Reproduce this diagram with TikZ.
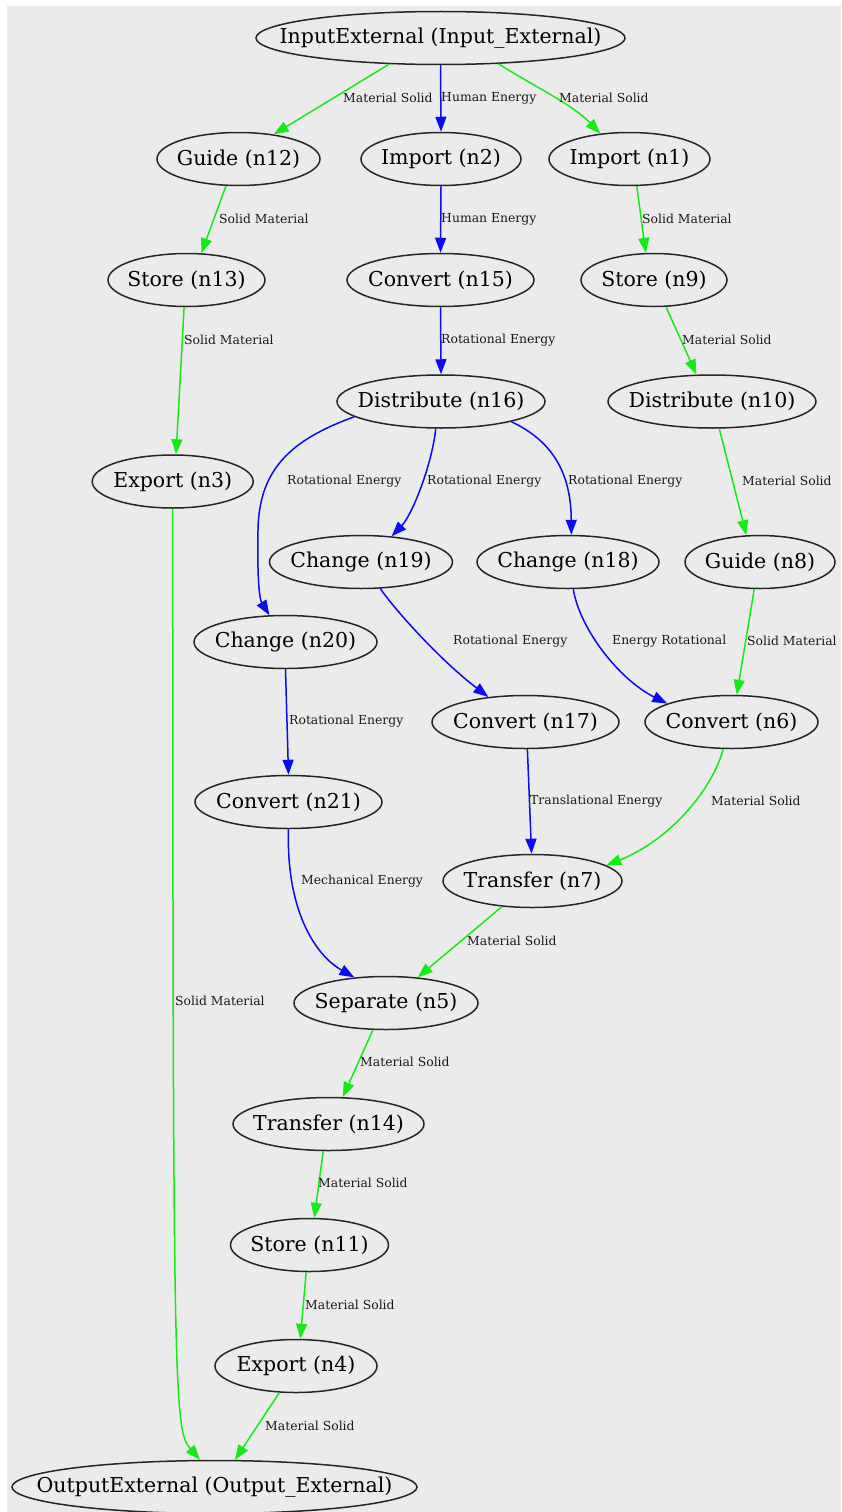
\documentclass[tikz,border=0pt]{standalone}
\usepackage{fontspec}
\setmainfont{DejaVu Serif}
\usetikzlibrary{shapes.geometric,arrows.meta}
\definecolor{canvas}{RGB}{235,235,235}
\definecolor{flowgreen}{RGB}{20,235,20}
\definecolor{flowblue}{RGB}{10,10,245}
\newcommand\fntext[1]{\makebox[0pt]{#1}}
\begin{document}
\begin{tikzpicture}[x=1pt,y=-1pt,
  fn/.style={ellipse, draw=black!85, line width=1.5pt, inner sep=0pt,
    minimum height=53pt, text=black, font=\fontsize{20.5}{24}\selectfont},
  lbl/.style={anchor=west, inner sep=0pt, text=black!90,
    font=\fontsize{12.4}{14}\selectfont},
  flow/.style={line width=1.5pt, -{Triangle[length=15pt,width=11pt]}},
  mat/.style={flow, draw=flowgreen},
  nrg/.style={flow, draw=flowblue}]

% page and canvas
\useasboundingbox (0,0) rectangle (841,1512);
\fill[white] (0,0) rectangle (841,1512);
\fill[canvas] (7,6) rectangle (841,1512);

% function blocks
\node[fn, minimum width=369pt] (in)  at (440.5,38)   {\fntext{InputExternal (Input\_External)}};
\node[fn, minimum width=163pt] (n12) at (238.5,159)  {\fntext{Guide (n12)}};
\node[fn, minimum width=160pt] (n2)  at (441,159)    {\fntext{Import (n2)}};
\node[fn, minimum width=161pt] (n1)  at (629.5,159)  {\fntext{Import (n1)}};
\node[fn, minimum width=157pt] (n13) at (186.5,280)  {\fntext{Store (n13)}};
\node[fn, minimum width=187pt] (n15) at (440.5,280)  {\fntext{Convert (n15)}};
\node[fn, minimum width=146pt] (n9)  at (654,280)    {\fntext{Store (n9)}};
\node[fn, minimum width=208pt] (n16) at (441,401.5)  {\fntext{Distribute (n16)}};
\node[fn, minimum width=208pt] (n10) at (712,401.5)  {\fntext{Distribute (n10)}};
\node[fn, minimum width=161pt] (n3)  at (172.7,481.5){\fntext{Export (n3)}};
\node[fn, minimum width=183pt] (n19) at (361,562)    {\fntext{Change (n19)}};
\node[fn, minimum width=182pt] (n18) at (568,562)    {\fntext{Change (n18)}};
\node[fn, minimum width=150pt] (n8)  at (760,562)    {\fntext{Guide (n8)}};
\node[fn, minimum width=183pt] (n20) at (285.5,642)  {\fntext{Change (n20)}};
\node[fn, minimum width=187pt] (n17) at (525.5,722)  {\fntext{Convert (n17)}};
\node[fn, minimum width=173pt] (n6)  at (731.5,722)  {\fntext{Convert (n6)}};
\node[fn, minimum width=187pt] (n21) at (288.5,802)  {\fntext{Convert (n21)}};
\node[fn, minimum width=179pt] (n7)  at (532.5,881)  {\fntext{Transfer (n7)}};
\node[fn, minimum width=184pt] (n5)  at (386,1003)   {\fntext{Separate (n5)}};
\node[fn, minimum width=191pt] (n14) at (328.5,1124) {\fntext{Transfer (n14)}};
\node[fn, minimum width=158pt] (n11) at (309.5,1245) {\fntext{Store (n11)}};
\node[fn, minimum width=162pt] (n4)  at (296,1366)   {\fntext{Export (n4)}};
\node[fn, minimum width=405pt] (out) at (214.5,1487) {\fntext{OutputExternal (Output\_External)}};

% material flows
\draw[mat] (in.207) -- (n12.35);
\draw[mat] (in.336) .. controls (535,87) and (572,104) .. (n1.139);
\draw[mat] (n12.245) -- (n13.61);
\draw[mat] (n13.265) -- (n3.83);
\draw[mat] (n3.south) .. controls (173,1400) and (174,1430) .. (out.118);
\draw[mat] (n1.285) -- (n9.107);
\draw[mat] (n9.294) -- (n10.120);
\draw[mat] (n10.285) -- (n8.117);
\draw[mat] (n8.258) -- (n6.79);
\draw[mat] (n6.253) .. controls (712,790) and (670,840) .. (n7.12);
\draw[mat] (n7.220) -- (n5.39);
\draw[mat] (n5.244) -- (n14.62);
\draw[mat] (n14.259) -- (n11.80);
\draw[mat] (n11.263) -- (n4.81);
\draw[mat] (n4.238) -- (out.53);

% energy flows
\draw[nrg] (in.south) -- (n2.north);
\draw[nrg] (n2.south) -- (n15.north);
\draw[nrg] (n15.south) -- (n16.north);
\draw[nrg] (n16.190) .. controls (290,440) and (259,470) .. (258,530)
                     .. controls (257,585) and (260,600) .. (n20.121);
\draw[nrg] (n16.259) .. controls (432,465) and (412,515) .. (n19.40);
\draw[nrg] (n16.344) .. controls (550,440) and (571,470) .. (n18.83);
\draw[nrg] (n19.306) .. controls (395,610) and (440,660) .. (n17.146);
\draw[nrg] (n18.281) .. controls (580,630) and (620,680) .. (n6.164);
\draw[nrg] (n20.south) -- (n21.north);
\draw[nrg] (n17.274) -- (n7.92);
\draw[nrg] (n21.south) .. controls (286,910) and (315,955) .. (n5.141);

% flow labels
\node[lbl] (l1)  at (343,98)    {Material Solid};
\node[lbl] (l2)  at (441,98)    {Human Energy};
\node[lbl] (l3)  at (559,98)    {Material Solid};
\node[lbl] (l4)  at (219,219)   {Solid Material};
\node[lbl] (l5)  at (441,219)   {Human Energy};
\node[lbl] (l6)  at (642,219)   {Solid Material};
\node[lbl] (l7)  at (184,340)   {Solid Material};
\node[lbl] (l8)  at (441,340)   {Rotational Energy};
\node[lbl] (l9)  at (682,340)   {Material Solid};
\node[lbl] (l10) at (287,481)   {Rotational Energy};
\node[lbl] (l11) at (427,481)   {Rotational Energy};
\node[lbl] (l12) at (568,481)   {Rotational Energy};
\node[lbl] (l13) at (742,481)   {Material Solid};
\node[lbl] (l14) at (453,641)   {Rotational Energy};
\node[lbl] (l15) at (612,641)   {Energy Rotational};
\node[lbl] (l16) at (747,641)   {Solid Material};
\node[lbl] (l17) at (289,721)   {Rotational Energy};
\node[lbl] (l18) at (530,801)   {Translational Energy};
\node[lbl] (l19) at (711,801)   {Material Solid};
\node[lbl] (l20) at (301,881)   {Mechanical Energy};
\node[lbl] (l21) at (467,941)   {Material Solid};
\node[lbl] (l22) at (175,1001)  {Solid Material};
\node[lbl] (l23) at (360,1062)  {Material Solid};
\node[lbl] (l24) at (318,1183)  {Material Solid};
\node[lbl] (l25) at (305,1305)  {Material Solid};
\node[lbl] (l26) at (265,1426)  {Material Solid};
\end{tikzpicture}
\end{document}
